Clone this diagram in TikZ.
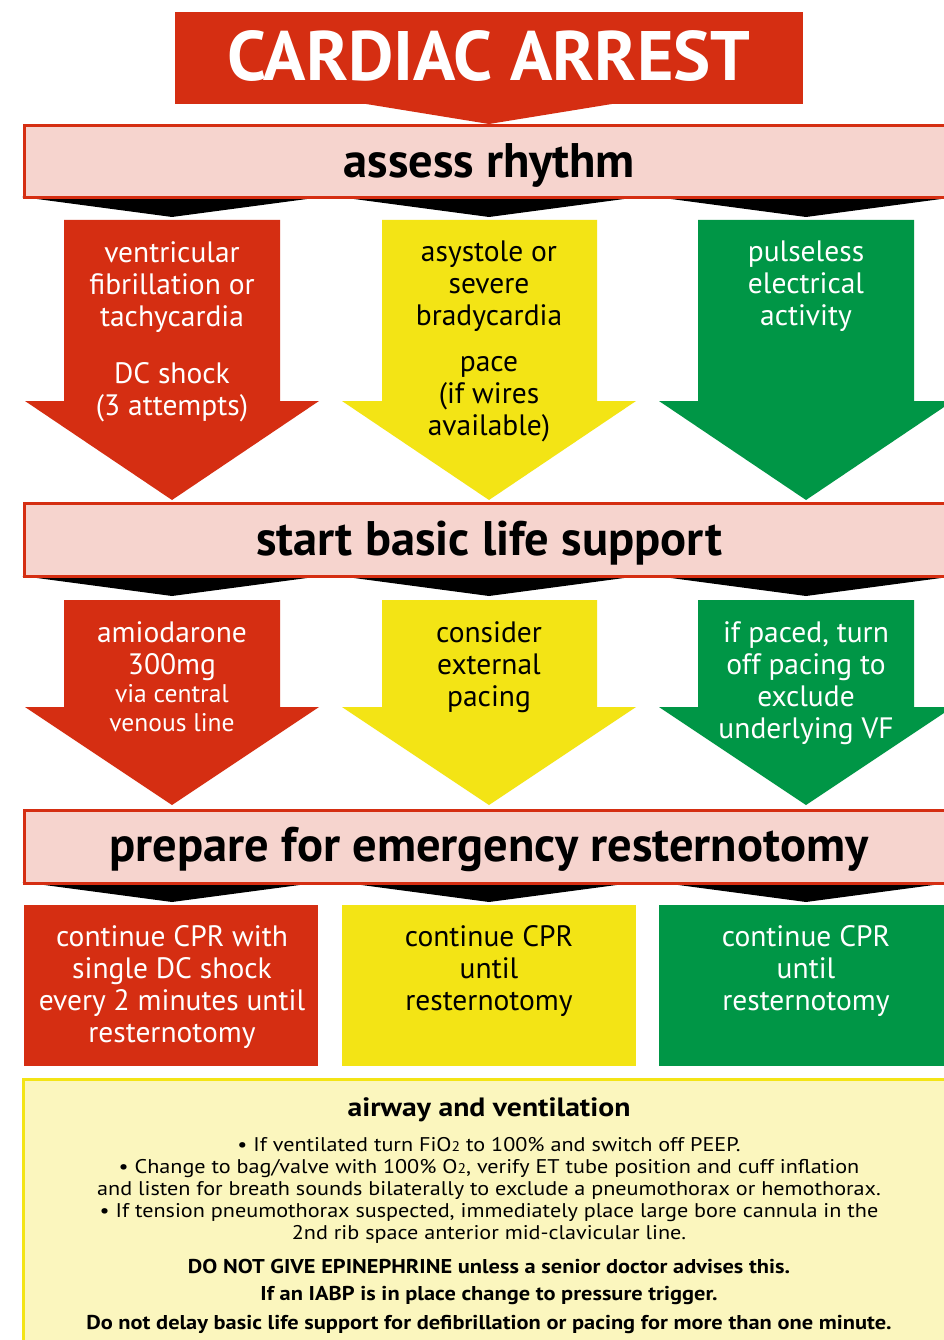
\documentclass[tikz,border=0pt]{standalone}
\usepackage{fontspec}
\setmainfont{PT Sans}
\newfontfamily\widefont[FakeStretch=1.12]{PT Sans}
\definecolor{cred}{RGB}{213,46,18}
\definecolor{cyel}{RGB}{243,228,21}
\definecolor{cgrn}{RGB}{0,150,70}
\definecolor{cpink}{RGB}{246,212,206}
\definecolor{cpale}{RGB}{251,246,190}
\newcommand{\colarrow}[8]{% color, x1, x2, ytop, yh, hx1, hx2, ytip
  \fill[#1] (#2,#4) -- (#3,#4) -- (#3,#5) -- (#7,#5) -- ({(#6+#7)/2},#8) -- (#6,#5) -- (#2,#5) -- cycle;}
\newcommand{\shadetri}[2]{% center, ybase
  \fill[black] ({#1-150},#2) -- ({#1+150},#2) -- (#1,{#2+20}) -- cycle;}
\begin{document}
\begin{tikzpicture}[x=1pt,y=-1pt,
  bar/.style={draw=cred, line width=3pt, fill=cpink, inner sep=0pt},
  bartext/.style={inner sep=0pt, text=black, font=\bfseries\fontsize{48.5}{48.5}\selectfont},
  coltext/.style={align=center, anchor=north, inner sep=0pt,
    font=\fontsize{29.5}{32}\selectfont},
  wtext/.style={coltext, text=white},
  btext/.style={coltext, text=black},
  note/.style={align=center, inner sep=0pt, text=black}]
\useasboundingbox (0,0) rectangle (943,1340);
\fill[white] (0,0) rectangle (943,1340);

% title
\fill[cred] (175,12) rectangle (803,104);
\fill[cred] (360,103) -- (618,103) -- (489,124) -- cycle;
\node[font=\bfseries\fontsize{70}{70}\selectfont, text=white, inner sep=0pt] (title) at (489,56) {CARDIAC ARREST};

% bar 1
\foreach \c in {172,489,806} {\shadetri{\c}{197}}
\node[bar, minimum width=921pt, minimum height=72pt] (bar1) at (485,161.5) {};
\node[bartext] (bar1t) at (489,165) {assess rhythm};

% row 1 arrows
\colarrow{cred}{64}{280}{220}{401}{25}{319}{500}
\colarrow{cyel}{382}{597}{220}{401}{342}{636}{500}
\colarrow{cgrn}{698}{914}{220}{401}{659}{953}{500}
\node[wtext] (r1a) at (172,241) {ventricular\\fibrillation or\\tachycardia\\[25pt]DC shock\\(3 attempts)};
\node[btext] (r1b) at (489,241) {asystole or\\severe\\bradycardia\\[14pt]pace\\(if wires\\available)};
\node[wtext] (r1c) at (806,241) {pulseless\\electrical\\activity};

% bar 2
\foreach \c in {172,489,806} {\shadetri{\c}{576}}
\node[bar, minimum width=921pt, minimum height=73pt] (bar2) at (485,540) {};
\node[bartext] (bar2t) at (489,543) {start basic life support};

% row 2 arrows
\colarrow{cred}{64}{280}{600}{707}{25}{319}{805}
\colarrow{cyel}{382}{597}{600}{707}{342}{636}{805}
\colarrow{cgrn}{698}{914}{600}{707}{659}{953}{805}
\node[wtext] (r2a) at (172,621) {amiodarone\\300mg\\[-4pt]{\fontsize{25.5}{29}\selectfont via central}\\[-3pt]{\fontsize{25.5}{29}\selectfont venous line}};
\node[btext] (r2b) at (489,621) {consider\\external\\pacing};
\node[wtext] (r2c) at (806,621) {if paced, turn\\off pacing to\\exclude\\underlying VF};

% bar 3
\foreach \c in {172,489,806} {\shadetri{\c}{882}}
\node[bar, minimum width=921pt, minimum height=73pt] (bar3) at (485,846.5) {};
\node[bartext] (bar3t) at (489,849) {prepare for emergency resternotomy};

% row 3 boxes
\fill[cred] (24,905) rectangle (318,1066);
\fill[cyel] (342,905) rectangle (636,1066);
\fill[cgrn] (659,905) rectangle (953,1066);
\node[wtext] (r3a) at (172,925) {continue CPR with\\single DC shock\\every 2 minutes until\\resternotomy};
\node[btext] (r3b) at (489,925) {continue CPR\\until\\resternotomy};
\node[wtext] (r3c) at (806,925) {continue CPR\\until\\resternotomy};

% bottom box
\draw[cyel, line width=3pt, fill=cpale] (23.5,1079.5) rectangle (950,1350);
\node[note, font=\widefont\bfseries\fontsize{26.5}{26.5}\selectfont] (airway) at (489,1110) {airway and ventilation};
\node[note, anchor=north, font=\widefont\fontsize{19.8}{22}\selectfont] (bullets) at (489,1137)
  {\textbullet\ If ventilated turn FiO{\fontsize{14}{14}\selectfont 2} to 100\% and switch off PEEP.\\
   \textbullet\ Change to bag/valve with 100\% O{\fontsize{14}{14}\selectfont 2}, verify ET tube position and cuff inflation\\
   and listen for breath sounds bilaterally to exclude a pneumothorax or hemothorax.\\
   \textbullet\ If tension pneumothorax suspected, immediately place large bore cannula in the\\
   2nd rib space anterior mid-clavicular line.};
\node[note, font=\widefont\bfseries\fontsize{20}{22}\selectfont] (epi) at (489,1266) {DO NOT GIVE EPINEPHRINE unless a senior doctor advises this.};
\node[note, font=\widefont\bfseries\fontsize{20}{22}\selectfont] (iabp) at (489,1295) {If an IABP is in place change to pressure trigger.};
\node[note, font=\widefont\bfseries\fontsize{20}{22}\selectfont] (delay) at (489,1324) {Do not delay basic life support for defibrillation or pacing for more than one minute.};
\end{tikzpicture}
\end{document}
